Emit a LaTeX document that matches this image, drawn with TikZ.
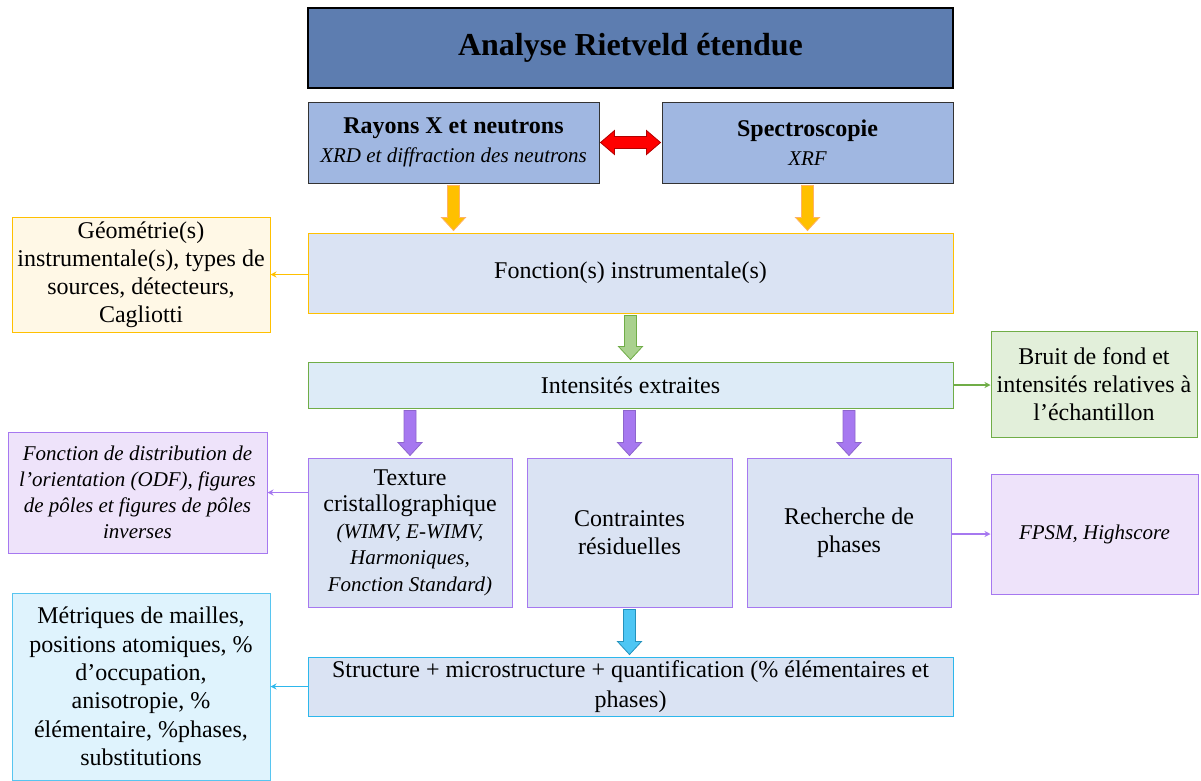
\documentclass[tikz,border=0pt]{standalone}
\usepackage{fontspec}
\setmainfont{Liberation Serif}
\usetikzlibrary{calc}
\usetikzlibrary{arrows.meta}

\definecolor{titlefill}{HTML}{5D7DB0}
\definecolor{sourcefill}{HTML}{A0B7E1}
\definecolor{mainfill}{HTML}{DAE3F3}
\definecolor{intfill}{HTML}{DDEBF7}
\definecolor{gold}{HTML}{FFC000}
\definecolor{cream}{HTML}{FFF8E6}
\definecolor{leaf}{HTML}{70AD47}
\definecolor{leaffill}{HTML}{E2EFDA}
\definecolor{leafarrow}{HTML}{A9D18E}
\definecolor{violet}{HTML}{A678F0}
\definecolor{violetfill}{HTML}{EEE3FA}
\definecolor{sky}{HTML}{2DB7EC}
\definecolor{skyfill}{HTML}{DFF3FD}
\definecolor{skyarrow}{HTML}{4DC6F4}

% italic text, a bit narrower
\newcommand{\itsm}{\fontsize{21}{26}\selectfont\itshape}

% vertical block arrow: start, end, style
\newcommand{\blockdown}[3]{\path[#3] let \p1=(#1), \p2=(#2) in
  (\x1-6pt,\y1-2pt) -- (\x1+6pt,\y1-2pt) -- (\x1+6pt,\y2+15pt) -- (\x1+12pt,\y2+15pt)
  -- (\x1,\y2+2pt) -- (\x1-12pt,\y2+15pt) -- (\x1-6pt,\y2+15pt) -- cycle;}

\begin{document}
\begin{tikzpicture}[x=1pt, y=-1pt,
  box/.style={draw, line width=1pt, align=center, inner sep=2pt, font=\fontsize{24}{28}\selectfont},
  thin arrow/.style={line width=1.5pt, -{Stealth[length=6pt,width=6pt]}},
  orangearrow/.style={fill=gold, draw=orange!60, line width=0.8pt},
  greenarrow/.style={fill=leafarrow, draw=leaf, line width=0.8pt},
  purplearrow/.style={fill=violet, draw=violet!85!black, line width=0.8pt},
  bluearrow/.style={fill=skyarrow, draw=sky!80!black, line width=0.8pt}]
  \useasboundingbox (0,0) rectangle (1201,780);

  \node[box, fill=titlefill, line width=2pt, minimum width=645pt, minimum height=80pt,
    font=\fontsize{32}{38}\selectfont\bfseries] (title) at (630.5,48) {Analyse Rietveld étendue};

  \node[box, fill=sourcefill, draw=black!80, minimum width=291pt, minimum height=81pt] (rayons) at (453.5,142.5)
    {\textbf{Rayons X et neutrons}\\[1pt] {\itsm XRD et diffraction des neutrons}};
  \node[box, fill=sourcefill, draw=black!80, minimum width=291pt, minimum height=81pt] (spectro) at (807.5,142.5)
    {\textbf{Spectroscopie}\\[1pt] {\itsm XRF}};

  \node[box, fill=mainfill, draw=gold, minimum width=645pt, minimum height=80pt] (fonction) at (630.5,273)
    {Fonction(s) instrumentale(s)};
  \node[box, fill=cream, draw=gold, minimum width=258pt, minimum height=115pt] (geom) at (141,274.5)
    {Géométrie(s)\\instrumentale(s), types de\\sources, détecteurs,\\Cagliotti};

  \node[box, fill=intfill, draw=leaf, minimum width=645pt, minimum height=46pt] (intens) at (630.5,385)
    {Intensités extraites};
  \node[box, fill=leaffill, draw=leaf, minimum width=206pt, minimum height=106pt] (bruit) at (1094,384)
    {Bruit de fond et\\intensités relatives à\\l’échantillon};

  \node[box, fill=mainfill, draw=violet, minimum width=204pt, minimum height=149pt,
    font=\fontsize{24}{26.5}\selectfont] (texture) at (410,532.5)
    {Texture\\cristallographique\\{\itsm (WIMV, E-WIMV,}\\{\itsm Harmoniques,}\\{\itsm Fonction Standard)}};
  \node[box, fill=mainfill, draw=violet, minimum width=205pt, minimum height=149pt] (contraintes) at (629.5,532.5)
    {Contraintes\\résiduelles};
  \node[box, fill=mainfill, draw=violet, minimum width=204pt, minimum height=149pt] (recherche) at (849,532.5)
    {Recherche de\\phases};

  \node[box, fill=violetfill, draw=violet, minimum width=259pt, minimum height=121pt,
    font=\itsm] (odf) at (137.5,492.5)
    {Fonction de distribution de\\l’orientation (ODF), figures\\de pôles et figures de pôles\\inverses};
  \node[box, fill=violetfill, draw=violet, minimum width=207pt, minimum height=120pt,
    font=\itsm] (fpsm) at (1094.5,534) {FPSM, Highscore};

  \node[box, fill=mainfill, draw=sky, minimum width=645pt, minimum height=59pt,
    font=\fontsize{24}{30}\selectfont] (structure) at (630.5,686.5)
    {Structure + microstructure + quantification (\% élémentaires et\\phases)};
  \node[box, fill=skyfill, draw=sky!80, minimum width=258pt, minimum height=187pt,
    font=\fontsize{24}{28.4}\selectfont] (metriques) at (141,686.5)
    {Métriques de mailles,\\positions atomiques, \%\\d’occupation,\\anisotropie, \%\\élémentaire, \%phases,\\substitutions};

  % block arrows
  \path[fill=red, draw=red!70!black, line width=0.8pt] let \p1=(rayons.east), \p2=(spectro.west) in
    (\x1+1pt,\y1) -- (\x1+15pt,\y1+12pt) -- (\x1+15pt,\y1+6pt) -- (\x2-15pt,\y1+6pt) -- (\x2-15pt,\y1+12pt)
    -- (\x2-1pt,\y1) -- (\x2-15pt,\y1-12pt) -- (\x2-15pt,\y1-6pt) -- (\x1+15pt,\y1-6pt) -- (\x1+15pt,\y1-12pt) -- cycle;
  \blockdown{rayons.south}{rayons.south |- fonction.north}{orangearrow}
  \blockdown{spectro.south}{spectro.south |- fonction.north}{orangearrow}
  \blockdown{fonction.south}{intens.north}{greenarrow}
  \foreach \b in {texture, contraintes, recherche}
    {\blockdown{\b.north |- intens.south}{\b.north}{purplearrow}}
  \blockdown{contraintes.south}{contraintes.south |- structure.north}{bluearrow}

  % side arrows
  \draw[thin arrow, gold] (fonction.west |- geom.east) -- (geom.east);
  \draw[thin arrow, leaf] (intens.east) -- (intens.east -| bruit.west);
  \draw[thin arrow, violet] (texture.west |- odf.east) -- (odf.east);
  \draw[thin arrow, violet] (recherche.east |- fpsm.west) -- (fpsm.west);
  \draw[thin arrow, sky] (structure.west) -- (structure.west -| metriques.east);
\end{tikzpicture}
\end{document}
